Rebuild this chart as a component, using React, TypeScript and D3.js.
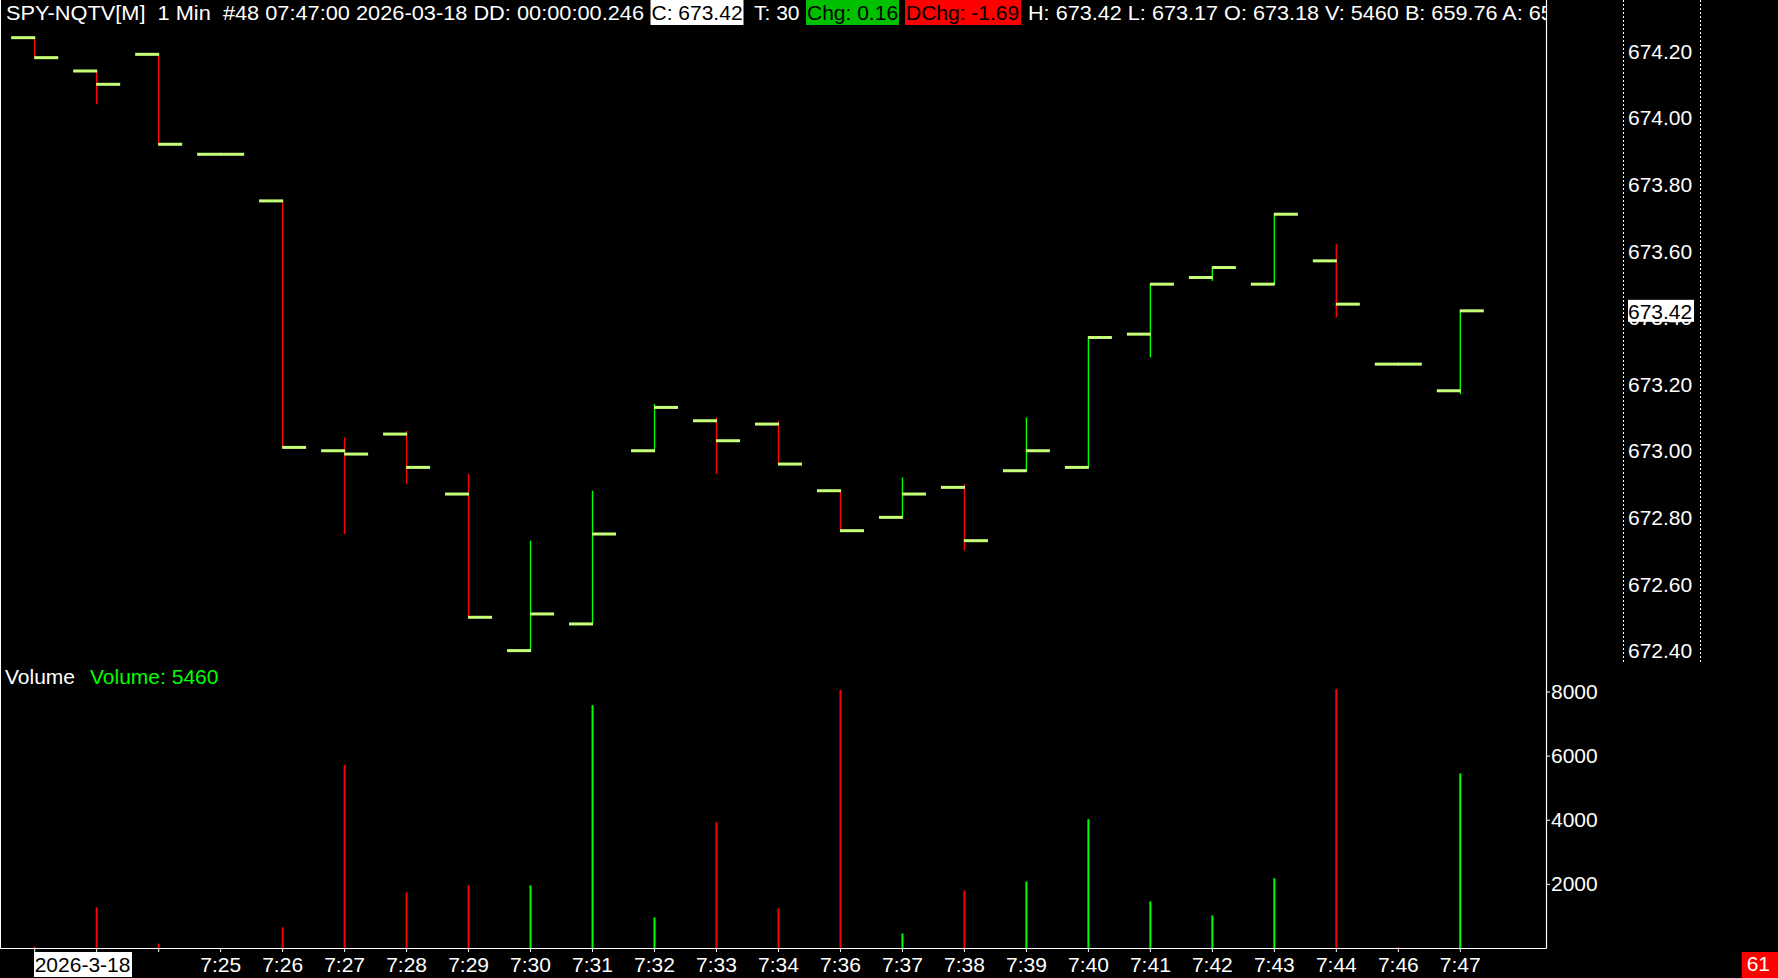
import React, { useEffect } from 'react';
import * as d3 from 'd3';

const times = ['7:22', '7:23', '7:24', '7:25', '7:26', '7:27', '7:28', '7:29', '7:30', '7:31', '7:32', '7:33',
  '7:34', '7:36', '7:37', '7:38', '7:39', '7:40', '7:41', '7:42', '7:43', '7:44', '7:46', '7:47'];
// what is printed under each bar ('' = skipped by the axis)
const timeLabels = ['2026-3-18', '', '', '7:25', '7:26', '7:27', '7:28', '7:29', '7:30', '7:31', '7:32', '7:33',
  '7:34', '7:36', '7:37', '7:38', '7:39', '7:40', '7:41', '7:42', '7:43', '7:44', '7:46', '7:47'];

const opens = [674.24, 674.14, 674.19, 673.89, 673.75, 673.00, 673.05, 672.87, 672.40, 672.48, 673.00, 673.09,
  673.08, 672.88, 672.80, 672.89, 672.94, 672.95, 673.35, 673.52, 673.50, 673.57, 673.26, 673.18];
const highs = [674.24, 674.14, 674.19, 673.89, 673.75, 673.04, 673.06, 672.93, 672.73, 672.88, 673.14, 673.10,
  673.09, 672.88, 672.92, 672.90, 673.10, 673.34, 673.50, 673.55, 673.71, 673.62, 673.26, 673.42];
const lows = [674.18, 674.04, 673.92, 673.89, 673.01, 672.75, 672.90, 672.50, 672.40, 672.48, 673.00, 672.93,
  672.96, 672.76, 672.80, 672.70, 672.94, 672.95, 673.28, 673.51, 673.50, 673.40, 673.26, 673.17];
const closes = [674.18, 674.10, 673.92, 673.89, 673.01, 672.99, 672.95, 672.50, 672.51, 672.75, 673.13, 673.03,
  672.96, 672.76, 672.87, 672.73, 673.00, 673.34, 673.50, 673.55, 673.71, 673.44, 673.26, 673.42];
const volumes = [60, 1280, 150, 0, 660, 5720, 1750, 1970, 1970, 7590, 970, 3940,
  1250, 8060, 470, 1810, 2090, 4030, 1470, 1030, 2190, 8090, 40, 5460];

const priceTicks = [672.4, 672.6, 672.8, 673.0, 673.2, 673.4, 673.6, 673.8, 674.0, 674.2];
const volumeTicks = [2000, 4000, 6000, 8000];
const lastClose = 673.42;

const W = 1778;
const H = 978;
const RIGHT = 1546.5;
const BASE = 948.5;
const FONT = '"Liberation Sans", Arial, sans-serif';
const UP = '#00ff00';
const DOWN = '#ff0000';
const TICK = '#c6ff78';
const NB = '\u00a0';

const App: React.FC = () => {
  useEffect(() => {
    document.body.style.margin = '0';
    document.body.style.background = '#000';
  }, []);

  const x = d3.scalePoint<string>().domain(times).range([34.7, 1460.3]);
  const yPrice = d3.scaleLinear().domain([672.4, 674.2]).range([650.6, 51]);
  const yVol = d3.scaleLinear().domain([0, 8000]).range([BASE, 692]);
  const fmt = d3.format('.2f');

  const bars = times.map((t, i) => ({
    t, o: opens[i], h: highs[i], l: lows[i], c: closes[i], v: volumes[i],
    up: closes[i] > opens[i]
  }));

  return (
    <svg width={W} height={H} style={{ display: 'block', position: 'fixed', left: 0, top: 0 }}
      fontFamily={FONT}>
      <defs>
        <clipPath id="plotClip">
          <rect x={0} y={0} width={RIGHT} height={H} />
        </clipPath>
      </defs>
      <rect width={W} height={H} fill="#000" />

      {/* header */}
      <g clipPath="url(#plotClip)" fontSize={21}>
        <text x={6} y={19.5} fill="#fff" textLength={638} lengthAdjust="spacingAndGlyphs">
          {`SPY-NQTV[M]${NB}${NB}1 Min${NB}${NB}#48 07:47:00 2026-03-18 DD: 00:00:00.246`}
        </text>
        <rect x={650.5} y={0} width={93} height={25} fill="#fff" />
        <text x={651.5} y={19.5} fill="#000">C: 673.42</text>
        <text x={754} y={19.5} fill="#fff">T: 30</text>
        <rect x={806} y={0} width={93} height={25} fill="#00c000" />
        <text x={807} y={19.5} fill="#000">Chg: 0.16</text>
        <rect x={905} y={0} width={116} height={25} fill="#ff0000" />
        <text x={906} y={19.5} fill="#000">DChg: -1.69</text>
        <text x={1028} y={19.5} fill="#fff" textLength={567} lengthAdjust="spacingAndGlyphs">
          H: 673.42 L: 673.17 O: 673.18 V: 5460 B: 659.76 A: 659.77
        </text>
      </g>

      {/* price bars */}
      <g>
        {bars.map((b, i) => {
          const cx = x(b.t)!;
          return (
            <g key={i}>
              <line x1={cx} x2={cx} y1={yPrice(b.h)} y2={yPrice(b.l)}
                stroke={b.up ? UP : DOWN} strokeWidth={1.4} />
              <rect x={cx - 23.5} y={yPrice(b.o) - 1.5} width={24} height={3} fill={TICK} />
              <rect x={cx - 0.5} y={yPrice(b.c) - 1.5} width={24} height={3} fill={TICK} />
            </g>
          );
        })}
      </g>

      {/* volume */}
      <text x={5} y={683.5} fill="#fff" fontSize={21}>Volume</text>
      <text x={90} y={683.5} fill={UP} fontSize={21}>Volume: 5460</text>
      <g>
        {bars.filter(b => b.v > 0).map((b, i) => (
          <rect key={i} x={x(b.t)! - 1} y={yVol(b.v)} width={2} height={BASE - yVol(b.v)}
            fill={b.up ? UP : DOWN} />
        ))}
      </g>

      {/* frame */}
      <line x1={0.5} x2={0.5} y1={0} y2={BASE} stroke="#fff" strokeWidth={1} />
      <line x1={RIGHT} x2={RIGHT} y1={0} y2={BASE} stroke="#fff" strokeWidth={1.2} />
      <line x1={0} x2={RIGHT} y1={BASE} y2={BASE} stroke="#fff" strokeWidth={1.2} />

      {/* time axis */}
      <g fontSize={21}>
        {times.map((t, i) => {
          const cx = x(t)!;
          const lab = timeLabels[i];
          return (
            <g key={t}>
              <line x1={cx} x2={cx} y1={BASE} y2={BASE + 3.5} stroke="#fff" strokeWidth={1} />
              {i === 0 ? (
                <g>
                  <rect x={cx - 0.7} y={952} width={98} height={25} fill="#fff" />
                  <text x={cx} y={971.7} fill="#000">{lab}</text>
                </g>
              ) : lab ? (
                <text x={cx} y={971.7} fill="#fff" textAnchor="middle">{lab}</text>
              ) : null}
            </g>
          );
        })}
      </g>

      {/* volume axis */}
      <g fontSize={21}>
        {volumeTicks.map(v => (
          <g key={v}>
            <line x1={RIGHT} x2={RIGHT + 3.5} y1={yVol(v)} y2={yVol(v)} stroke="#fff" strokeWidth={1} />
            <text x={1551} y={yVol(v) + 7} fill="#fff">{v}</text>
          </g>
        ))}
      </g>

      {/* price axis */}
      <line x1={1623.5} x2={1623.5} y1={0} y2={662} stroke="#fff" strokeWidth={1} strokeDasharray="2,2" />
      <line x1={1700.5} x2={1700.5} y1={0} y2={662} stroke="#fff" strokeWidth={1} strokeDasharray="2,2" />
      <g fontSize={21}>
        {priceTicks.map(p => (
          <text key={p} x={1628} y={yPrice(p) + 7.7} fill="#fff">{fmt(p)}</text>
        ))}
        <rect x={1628} y={yPrice(lastClose) - 11} width={66} height={22} fill="#fff" />
        <text x={1628} y={yPrice(lastClose) + 7.7} fill="#000">{fmt(lastClose)}</text>
      </g>

      {/* bar counter */}
      <rect x={1741.7} y={952} width={36.3} height={26} fill="#ff0000" />
      <text x={1746.7} y={970.7} fill="#fff" fontSize={21}>61</text>
    </svg>
  );
};

export default App;
